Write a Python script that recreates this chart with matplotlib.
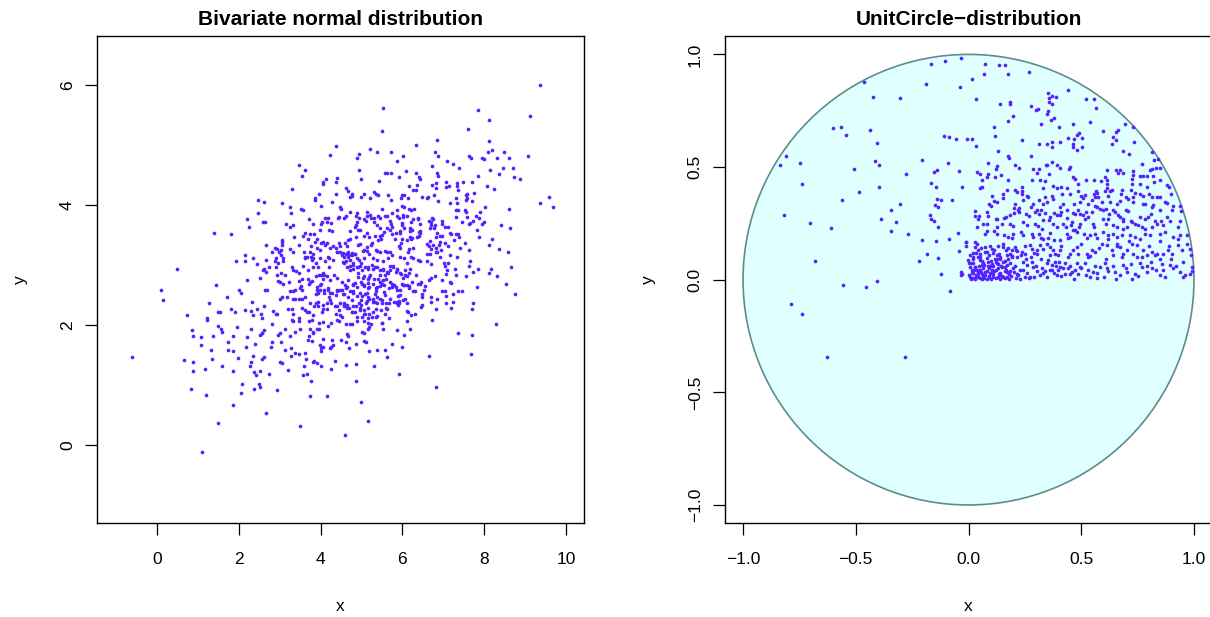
import matplotlib
matplotlib.use("Agg")
import matplotlib.pyplot as plt
from matplotlib.patches import Circle

plt.rcParams['font.family'] = ['Liberation Sans', 'DejaVu Sans']

# ---------------- data: bivariate normal sample ----------------
normal_pts_upper_left = [
(4.22,4.83),(3.46,4.67),(3.63,4.59),(3.54,4.49),(4.12,4.43),(4.07,4.38),(4.05,4.35),(3.30,4.26),(3.95,4.19),(3.86,4.11),
(3.87,4.08),(2.48,4.08),(2.62,4.05),(3.05,4.04),(3.24,3.97),(3.52,3.94),(3.58,3.92),(4.00,3.99),(4.29,4.05),(2.47,3.87),
(3.27,3.87),(2.20,3.77),(3.72,3.77),(4.11,3.78),(4.19,3.79),(2.58,3.71),(2.65,3.72),(3.16,3.68),(3.26,3.64),(3.33,3.67),
(3.82,3.69),(4.00,3.68),(4.04,3.71),(4.15,3.71),(4.25,3.70),(2.26,3.64),(1.40,3.53),(1.82,3.52),(3.34,3.46),(3.57,3.49),
(3.62,3.53),(3.68,3.44),(3.74,3.52),(3.84,3.52),(3.99,3.58),(4.21,3.59),(4.27,3.57),(3.91,3.44),(4.07,3.39),(4.00,3.37),
(4.16,3.37),(4.31,3.31),(2.67,3.33),(3.06,3.42),(3.06,3.39),(3.05,3.34),(2.88,3.28),(2.93,3.26),(3.04,3.25),(3.25,3.26),
(3.32,3.21),(3.46,3.33),(3.60,3.22),(3.75,3.21),(3.81,3.18),(3.90,3.28),(2.82,3.21),(2.99,3.21),(3.03,3.17),(2.92,3.11),
(2.89,3.06),(2.97,3.04),(3.08,3.06),(3.07,3.11),(2.14,3.16),(2.34,3.12),(2.67,3.08),(1.92,3.07),(2.15,3.06),(2.44,3.02),
(3.62,3.14),(4.17,3.14),(4.20,3.11),(3.63,3.12),(3.81,3.11),(3.77,3.13),
]
normal_pts_upper_right = [
(9.36,6.00),(5.53,5.61),(7.86,5.58),(9.12,5.49),(8.12,5.41),(5.51,5.24),(7.60,5.27),(6.84,5.09),(8.12,5.06),(4.38,4.99),
(6.32,5.00),(5.21,4.94),(5.38,4.88),(5.71,4.89),(8.10,4.89),(8.20,4.91),(8.48,4.88),(4.95,4.85),(4.88,4.78),(6.79,4.89),
(6.86,4.82),(6.02,4.81),(7.63,4.81),(7.67,4.78),(7.95,4.79),(8.00,4.76),(8.31,4.78),(8.61,4.79),(9.07,4.81),(5.87,4.73),
(7.08,4.74),(7.23,4.69),(6.72,4.65),(7.38,4.61),(8.13,4.59),(8.46,4.62),(8.71,4.62),(8.36,4.51),(8.72,4.46),(8.88,4.43),
(4.95,4.59),(5.58,4.54),(5.62,4.53),(5.71,4.53),(4.98,4.44),(5.42,4.40),(6.09,4.56),(6.32,4.54),(6.41,4.46),(6.44,4.44),
(5.92,4.47),(6.84,4.54),(6.88,4.48),(7.84,4.48),(4.39,4.45),(4.37,4.38),(6.72,4.33),(6.82,4.37),(6.81,4.28),(7.07,4.38),
(7.06,4.30),(7.13,4.32),(7.33,4.37),(7.34,4.31),(7.35,4.25),(7.49,4.38),(7.71,4.39),(8.08,4.31),(8.25,4.26),(4.61,4.28),
(4.68,4.24),(4.37,4.18),(4.76,4.18),(4.72,4.13),(4.77,4.15),(4.98,4.13),(5.07,4.18),(5.31,4.21),(5.35,4.19),(5.40,4.17),
(5.21,4.12),(5.65,4.17),(5.71,4.09),(5.98,4.17),(6.03,4.17),(6.17,4.32),(6.14,4.12),(6.26,4.25),(6.32,4.25),(6.35,4.33),
(5.97,4.11),(6.49,4.13),(6.61,4.11),(6.63,4.13),(6.78,4.16),(6.88,4.07),(7.17,4.04),(7.31,4.12),(7.34,4.03),(7.56,4.17),
(7.57,4.11),(7.56,4.08),(7.59,4.19),(7.70,4.07),(7.75,4.20),(8.03,3.96),(8.60,3.94),(9.36,4.04),(9.59,4.13),(9.68,3.96),
(4.47,3.96),(4.51,3.94),(4.61,3.81),(4.58,3.78),(4.44,3.80),(4.43,3.79),(4.73,3.89),(4.88,3.86),(4.87,3.81),(4.90,3.72),
(4.86,3.66),(4.85,3.63),(4.93,3.78),(5.05,3.76),(5.10,3.73),(5.14,3.89),(5.13,3.82),(5.21,3.83),(5.23,3.78),(5.31,3.78),
(5.30,3.72),(5.41,3.81),(5.45,3.78),(5.51,3.94),(5.58,3.81),(5.62,3.81),(5.39,3.67),(5.44,3.61),(5.75,3.87),(5.86,3.91),
(5.91,3.78),(5.86,3.81),(6.02,3.80),(6.02,3.83),(6.10,3.81),(6.00,3.99),(6.03,3.96),(6.17,3.94),(6.22,3.91),(6.28,3.93),
(6.37,3.78),(6.39,3.77),(6.27,3.76),(6.20,3.72),(5.69,3.73),(5.73,3.69),(5.74,3.64),(5.98,3.70),(5.99,3.67),(6.03,3.62),
(5.84,3.54),(5.95,3.56),(5.93,3.53),(6.18,3.61),(6.18,3.57),(6.24,3.58),(6.18,3.47),(6.23,3.45),(6.43,3.68),(6.41,3.55),
(6.43,3.57),(6.65,3.73),(6.70,3.72),(6.74,3.76),(6.73,3.79),(6.67,3.62),(6.71,3.66),(6.80,3.67),(6.78,3.61),(6.96,3.68),
(7.04,3.64),(7.12,3.63),(6.96,3.74),(7.31,3.80),(7.30,3.92),(7.35,3.91),(7.45,3.72),(7.53,3.92),(7.55,3.89),(7.57,3.80),
(7.65,3.70),(7.62,3.68),(7.72,3.74),(7.80,3.81),(7.89,3.88),(7.88,3.78),(7.99,3.71),(7.94,3.68),(7.82,3.59),(7.88,3.46),
(8.20,3.44),(8.42,3.66),(8.64,3.62),(8.12,3.33),(8.36,3.27),(8.59,3.22),(6.85,3.53),(6.91,3.49),(6.81,3.47),(6.98,3.49),
(7.18,3.51),(7.17,3.54),(7.31,3.51),(7.37,3.52),(7.38,3.47),(7.26,3.42),(7.04,3.37),(7.12,3.32),(7.40,3.28),(7.53,3.36),
(7.63,3.25),(7.65,3.06),(7.17,3.16),(6.93,3.39),(6.89,3.34),(6.76,3.34),(6.69,3.27),(6.59,3.35),(6.64,3.32),(6.81,3.28),
(6.83,3.22),(6.94,3.25),(6.85,3.21),(6.68,3.19),(6.61,3.18),(6.93,3.14),(6.39,3.08),(6.43,3.06),(6.67,3.40),(6.41,3.49),
(6.43,3.54),(6.35,3.47),(6.21,3.44),(6.10,3.42),(6.27,3.29),(6.17,3.26),(6.13,3.22),(5.92,3.32),(5.93,3.28),(5.99,3.44),
(5.96,3.36),(5.83,3.44),(5.74,3.51),(5.70,3.58),(5.62,3.61),(5.55,3.55),(5.50,3.50),(5.48,3.44),(5.45,3.49),(5.33,3.49),
(5.41,3.42),(5.19,3.47),(5.05,3.48),(5.14,3.53),(4.96,3.59),(4.92,3.59),(4.86,3.47),(4.73,3.56),(4.72,3.44),(4.66,3.41),
(4.60,3.36),(4.65,3.32),(4.44,3.37),(4.47,3.32),(4.55,3.20),(4.53,3.17),(4.66,3.21),(4.70,3.17),(4.76,3.20),(4.85,3.18),
(4.92,3.33),(4.97,3.35),(5.04,3.23),(5.07,3.25),(5.13,3.30),(5.23,3.33),(5.25,3.37),(5.18,3.19),(5.14,3.23),(5.35,3.25),
(5.38,3.24),(5.44,3.21),(5.57,3.24),(5.63,3.22),(5.70,3.21),(5.53,3.07),(5.65,3.12),(5.75,3.16),(5.29,3.11),(5.37,3.08),
(5.05,3.11),(4.98,3.04),(4.72,3.09),(4.80,3.04),(4.55,3.05),(4.61,3.07),(4.38,3.28),(4.39,3.21),(5.95,3.14),(6.04,3.11),
(6.21,3.14),(6.27,3.11),(6.12,3.03),(6.59,3.06),(6.69,3.02),(7.02,3.04),(7.11,3.03),(7.34,3.14),
]
normal_pts_lower_left = [
(0.48,2.93),(1.45,2.66),(0.10,2.58),(0.15,2.42),(2.20,2.75),(2.00,2.59),(2.05,2.54),(1.71,2.47),(1.27,2.36),(0.73,2.16),
(1.21,2.11),(1.23,2.09),(1.48,2.22),(1.53,2.22),(1.80,2.26),(1.91,2.22),(2.16,2.25),(2.33,2.39),(2.31,2.23),(2.44,2.26),
(2.35,2.16),(2.55,2.18),(2.56,2.12),(2.62,2.31),(2.63,2.59),(2.68,2.59),(2.52,2.79),(2.84,2.24),(2.90,2.18),(2.94,2.19),
(2.81,2.01),(2.61,1.91),(2.56,1.86),(2.29,1.94),(1.96,1.97),(1.49,1.98),(1.56,1.94),(1.60,1.88),(0.86,1.91),(0.87,1.81),
(1.07,1.80),(1.08,1.66),(1.37,1.81),(1.74,1.72),(1.86,1.82),(2.19,1.80),(2.40,1.69),(2.52,1.83),(2.57,1.87),(2.81,1.71),
(2.78,1.63),(3.00,1.87),(2.97,1.84),(3.04,1.71),(3.13,1.93),(3.14,1.58),(3.26,1.81),(3.27,1.61),(3.37,1.54),(3.27,1.49),
(3.48,1.51),(1.33,1.58),(1.74,1.59),(1.86,1.57),(1.97,1.45),(2.18,1.63),(2.35,1.49),(2.29,1.39),(2.27,1.32),(2.57,1.44),
(2.62,1.47),(1.35,1.44),(0.66,1.41),(0.88,1.39),(-0.60,1.46),(0.87,1.24),(1.17,1.27),(1.59,1.32),(1.87,1.24),(2.37,1.22),
(2.42,1.16),(2.53,1.24),(2.73,1.19),(3.01,1.39),(3.05,1.36),(3.20,1.25),(0.83,0.94),(1.20,0.83),(2.08,1.01),(2.05,0.87),
(2.36,0.94),(2.49,1.02),(2.53,0.97),(2.93,0.91),(1.86,0.66),(2.67,0.54),(1.48,0.36),(3.50,0.32),(1.09,-0.11),(3.74,0.81),
(4.15,0.81),(3.56,1.16),(3.67,1.19),(3.77,1.07),(3.81,1.39),(3.85,1.40),(3.90,1.36),(4.02,1.32),(4.25,1.27),(3.60,1.31),
(3.65,1.44),(3.63,1.53),(2.67,2.89),(2.73,2.97),(2.58,2.92),(2.62,2.94),(2.90,2.96),(3.03,2.86),(3.14,2.83),(2.94,2.84),
(3.29,2.97),(3.33,2.92),(3.41,2.90),(3.46,2.86),(3.58,2.99),(3.70,2.92),(3.81,2.96),(3.94,2.97),(2.97,2.74),(3.01,2.72),
(3.07,2.68),(3.23,2.72),(3.24,2.57),(3.33,2.56),(3.38,2.58),(3.46,2.73),(3.54,2.76),(3.51,2.65),(3.50,2.62),(3.54,2.58),
(3.70,2.76),(3.74,2.72),(3.72,2.69),(3.78,2.73),(3.88,2.82),(3.97,2.84),(4.02,2.84),(4.08,2.84),(4.07,2.76),(4.02,2.69),
(3.98,2.67),(3.90,2.59),(3.94,2.53),(3.89,2.51),(4.09,2.58),(4.19,2.58),(4.23,2.53),(4.21,2.47),(4.23,2.42),(4.16,2.37),
(3.89,2.36),(3.93,2.31),(3.54,2.28),(3.62,2.25),(3.66,2.22),(3.72,2.21),(3.82,2.17),(4.03,2.22),(4.07,2.26),(3.32,2.43),
(3.37,2.43),(3.46,2.43),(3.54,2.43),(3.63,2.47),(3.19,2.46),(3.05,2.46),(3.01,2.44),(3.21,2.27),(3.30,2.26),(3.32,2.18),
(3.29,2.09),(3.32,2.06),(3.48,2.07),(3.47,2.11),(3.72,2.07),(3.80,2.08),(3.97,2.04),(4.05,2.05),(4.19,1.98),(4.25,2.03),
(3.74,1.93),(3.81,1.89),(3.82,1.87),(3.72,1.81),(3.68,1.75),(3.79,1.73),(3.96,1.93),(3.92,1.94),(3.98,1.67),(4.00,1.61),
(4.05,1.64),(4.01,1.56),(4.07,1.76),(4.27,1.75),(4.30,1.67),(4.23,1.61),(4.25,1.64),(3.50,1.93),(3.37,1.89),
]
normal_pts_lower_right = [
(8.66,2.96),(8.32,2.82),(8.12,2.87),(8.17,2.93),(8.54,2.68),(8.76,2.52),(7.84,2.93),(7.82,2.64),(7.72,2.89),(7.64,2.98),
(7.56,2.81),(7.29,2.94),(7.32,2.84),(7.10,2.91),(7.04,2.98),(7.06,2.85),(6.96,2.75),(7.17,2.71),(7.20,2.70),(6.98,2.57),
(7.05,2.57),(7.24,2.51),(7.35,2.57),(7.46,2.56),(7.07,2.48),(6.85,2.44),(7.07,2.37),(7.23,2.39),(7.19,2.29),(7.73,2.36),
(7.71,2.26),(6.81,2.26),(6.72,2.08),(8.30,2.01),(7.37,1.86),(7.69,1.84),(7.68,1.52),(6.66,1.49),(6.81,0.97),(5.92,1.19),
(5.62,1.47),(5.31,1.32),(4.87,1.06),(4.99,0.72),(5.17,0.40),(4.60,0.16),(4.63,1.33),(4.86,1.35),(4.36,1.40),(6.00,1.63),
(5.75,1.69),(5.57,1.59),(5.39,1.58),(5.19,1.56),(5.87,1.91),(6.04,1.84),(6.19,1.94),(5.50,2.04),(5.53,1.94),(5.19,1.96),
(5.17,1.94),(5.24,2.01),(5.01,1.88),(5.05,1.86),(5.07,1.73),(5.10,1.71),(4.68,1.81),(4.70,1.61),(4.86,1.68),(4.64,1.85),
(4.62,1.71),(4.51,1.75),(4.76,2.02),(4.72,2.02),(4.61,2.01),(4.88,2.06),(4.90,2.13),(5.05,2.06),(5.15,2.04),(5.15,2.11),
(5.36,2.13),(5.36,2.27),(5.49,2.03),(5.60,2.29),(5.62,2.26),(5.68,2.36),(5.86,2.38),(5.91,2.36),(6.12,2.24),(6.14,2.21),
(6.22,2.17),(6.31,2.18),(6.48,2.34),(6.45,2.30),(6.11,2.06),(6.27,2.57),(6.30,2.56),(6.49,2.51),(6.49,2.47),(6.55,2.65),
(6.42,2.69),(6.45,2.71),(6.37,2.68),(6.65,2.75),(6.71,2.78),(6.80,2.82),(6.32,2.83),(6.15,2.65),(6.24,2.71),(6.53,2.59),
(6.71,2.46),(6.71,2.39),(6.06,2.43),(5.92,2.40),(5.86,2.36),(5.88,2.49),(5.94,2.50),(5.75,2.64),(5.86,2.59),(5.99,2.68),
(6.01,2.67),(6.10,2.67),(6.07,2.84),(6.10,2.82),(6.19,2.93),(6.01,2.79),(5.96,2.85),(5.85,2.88),(5.86,2.93),(5.70,2.98),
(5.78,2.99),(5.53,2.92),(5.45,2.84),(5.57,2.83),(5.65,2.86),(5.60,2.76),(5.53,2.75),(5.41,2.76),(5.31,2.76),(5.17,2.76),
(5.19,2.80),(5.21,2.84),(5.29,2.93),(5.37,2.97),(5.17,2.96),(4.96,2.98),(4.88,2.97),(4.80,3.00),(4.73,2.98),(4.92,2.86),
(4.91,2.80),(5.05,2.82),(5.03,2.79),(4.85,2.70),(4.78,2.67),(4.65,2.64),(4.62,2.61),(4.53,2.59),(4.41,2.58),(5.01,2.68),
(5.05,2.65),(5.17,2.70),(5.19,2.64),(5.35,2.62),(5.45,2.65),(5.49,2.68),(5.70,2.71),(5.80,2.67),(5.56,2.55),(5.58,2.50),
(5.36,2.56),(5.34,2.51),(5.14,2.53),(5.17,2.47),(4.96,2.53),(5.01,2.48),(4.72,2.56),(4.80,2.53),(4.55,2.52),(4.41,2.56),
(5.29,2.43),(5.33,2.39),(5.37,2.37),(5.45,2.43),(5.49,2.37),(5.13,2.40),(5.11,2.36),(4.95,2.36),(4.98,2.34),(4.76,2.42),
(4.80,2.31),(4.65,2.33),(4.57,2.37),(4.56,2.31),(4.41,2.31),(4.47,2.36),(4.70,2.28),(4.76,2.22),(4.84,2.22),(4.96,2.28),
(5.05,2.25),(5.09,2.18),(5.02,2.14),(5.19,2.19),(5.25,2.13),(4.47,2.17),(4.41,2.09),(4.38,2.19),(4.44,2.06),(4.52,2.14),
]
normal_pts_core = [
(4.47,3.22),(4.56,3.14),(4.62,3.19),(4.68,3.13),(4.76,3.17),(4.84,3.19),(4.88,3.11),(4.95,3.08),(4.56,3.03),(4.65,2.97),
(4.72,2.92),(4.80,2.94),(4.92,2.97),(5.00,2.92),(5.09,2.97),(5.17,2.94),(5.25,3.00),(5.33,2.97),(5.44,2.92),(5.53,2.94),
(5.62,2.89),(5.70,2.92),(5.78,2.97),(5.86,2.92),(5.94,2.86),(6.06,2.92),(6.15,2.86),(4.07,2.86),(4.15,2.81),(4.23,2.75),
(4.33,2.83),(4.41,2.78),(4.52,2.72),(4.60,2.67),(4.68,2.75),(4.78,2.69),(4.88,2.64),(4.98,2.72),(5.06,2.67),(5.17,2.61),
(5.27,2.69),(5.37,2.64),(5.45,2.72),(5.55,2.67),(5.66,2.61),(5.75,2.69),(5.84,2.64),(5.94,2.58),(6.04,2.67),(6.15,2.61),
(3.90,2.64),(3.99,2.58),(4.08,2.53),(4.19,2.61),(4.27,2.54),(4.38,2.50),(4.47,2.58),(4.57,2.52),(4.68,2.47),(4.78,2.56),
(4.88,2.48),(4.98,2.42),(5.09,2.52),(5.19,2.44),(5.29,2.39),(5.39,2.47),(5.49,2.42),(5.60,2.36),(5.70,2.44),(5.79,2.39),
(5.90,2.33),(6.01,2.42),(6.10,2.36),(3.74,2.36),(3.84,2.31),(3.94,2.39),(4.05,2.33),(4.15,2.26),(4.25,2.36),(4.35,2.31),
(4.46,2.25),(4.56,2.33),(4.65,2.28),(4.76,2.22),(4.87,2.31),(4.96,2.25),(5.06,2.19),(5.17,2.28),(5.27,2.22),(5.37,2.15),
(5.47,2.25),(5.57,2.19),(5.68,2.11),(3.66,3.14),(3.78,3.08),(3.89,3.03),(3.99,3.11),(4.11,3.06),(4.21,2.97),(4.31,3.08),
(4.39,3.22),(4.23,3.28),(4.11,3.33),(3.99,3.25),(3.86,3.39),(3.76,3.31),
]

# ---------------- data: unit-circle sample ----------------
circle_pts_left = [
(-0.033,0.985),(-0.106,0.971),(-0.166,0.959),(-0.465,0.879),(-0.188,0.867),(-0.038,0.854),(-0.424,0.812),(-0.305,0.806),
(-0.601,0.675),(-0.565,0.679),(-0.542,0.644),(-0.437,0.664),(-0.407,0.608),(-0.107,0.638),(-0.088,0.635),(-0.055,0.626),
(-0.808,0.549),(-0.834,0.511),(-0.746,0.520),(-0.415,0.527),(-0.398,0.511),(-0.506,0.493),(-0.208,0.530),(-0.092,0.518),
(-0.152,0.480),(-0.141,0.486),(-0.041,0.484),(-0.276,0.471),(-0.737,0.425),(-0.395,0.412),(-0.484,0.391),(-0.166,0.431),
(-0.144,0.412),(-0.029,0.412),(-0.561,0.355),(-0.140,0.358),(-0.122,0.353),(-0.073,0.353),(-0.147,0.333),(-0.134,0.321),
(-0.302,0.335),(-0.345,0.311),(-0.817,0.289),(-0.169,0.285),(-0.168,0.270),(-0.152,0.262),(-0.388,0.270),(-0.321,0.258),
(-0.703,0.252),(-0.610,0.228),(-0.344,0.217),(-0.270,0.205),(-0.134,0.234),(-0.048,0.208),(-0.208,0.178),(-0.144,0.172),
(-0.086,0.180),(-0.013,0.168),(-0.010,0.150),(-0.041,0.126),(-0.182,0.115),(-0.218,0.081),(-0.137,0.098),(-0.679,0.081),
(-0.124,0.024),(-0.033,0.035),(-0.028,0.027),(-0.033,0.019),(-0.555,-0.024),(-0.456,-0.032),(-0.404,-0.005),(-0.081,-0.048),
(-0.789,-0.106),(-0.740,-0.153),(-0.629,-0.342),(-0.282,-0.342),
]
circle_pts_upper_right = [
(0.075,0.959),(0.137,0.953),(0.161,0.953),(0.069,0.911),(0.177,0.914),(0.270,0.921),(0.017,0.890),(0.443,0.843),
(0.354,0.830),(0.369,0.815),(0.355,0.808),(0.358,0.791),(0.388,0.812),(0.032,0.804),(0.520,0.804),(0.558,0.800),
(0.141,0.780),(0.186,0.788),(0.184,0.781),(0.277,0.772),(0.299,0.755),(0.308,0.758),(0.372,0.780),(0.564,0.763),
(0.354,0.749),(0.347,0.734),(0.196,0.725),(0.177,0.704),(0.366,0.708),(0.378,0.717),(0.401,0.678),(0.323,0.690),
(0.463,0.690),(0.540,0.701),(0.694,0.690),(0.731,0.678),(0.662,0.666),(0.654,0.655),(0.490,0.650),(0.480,0.641),
(0.595,0.659),(0.641,0.634),(0.115,0.678),(0.116,0.640),(-0.008,0.623),(0.014,0.623),(0.033,0.592),(0.239,0.621),
(0.314,0.602),(0.347,0.604),(0.369,0.611),(0.372,0.591),(0.406,0.610),(0.440,0.630),(0.468,0.626),(0.503,0.630),
(0.462,0.604),(0.465,0.589),(0.503,0.587),(0.480,0.575),(0.636,0.601),(0.656,0.618),(0.734,0.610),(0.685,0.573),
(0.713,0.556),(0.815,0.565),(0.824,0.530),(0.842,0.535),(0.812,0.491),(0.803,0.487),(0.831,0.496),(0.849,0.497),
(0.768,0.515),(0.132,0.570),(0.177,0.548),(0.181,0.542),(0.276,0.548),(0.222,0.498),(0.206,0.508),(0.085,0.520),
(0.122,0.493),(0.128,0.506),(0.038,0.476),(0.051,0.471),(0.085,0.471),(0.081,0.456),(0.118,0.456),(0.146,0.465),
(0.177,0.441),(0.061,0.444),(0.059,0.411),(0.051,0.409),(0.288,0.491),(0.302,0.474),(0.314,0.491),(0.342,0.508),
(0.350,0.511),(0.370,0.521),(0.391,0.510),(0.406,0.497),(0.356,0.470),(0.282,0.444),(0.317,0.444),(0.341,0.439),
(0.239,0.411),(0.237,0.394),(0.236,0.379),(0.329,0.408),(0.376,0.416),(0.394,0.409),(0.410,0.411),(0.435,0.409),
(0.450,0.500),(0.446,0.490),(0.462,0.456),(0.473,0.447),(0.487,0.426),(0.523,0.441),(0.557,0.441),(0.589,0.438),
(0.604,0.456),(0.613,0.486),(0.616,0.441),(0.613,0.426),(0.613,0.409),(0.654,0.486),(0.672,0.489),(0.684,0.475),
(0.664,0.474),(0.731,0.482),(0.728,0.465),(0.726,0.447),(0.760,0.459),(0.774,0.459),(0.793,0.459),(0.820,0.459),
(0.849,0.444),(0.879,0.419),(0.889,0.412),(0.898,0.379),(0.824,0.434),(0.793,0.412),(0.760,0.426),(0.724,0.426),
(0.720,0.400),(0.679,0.400),(0.678,0.382),(0.636,0.400),(0.628,0.394),(0.607,0.394),(0.620,0.370),(0.564,0.392),
(0.557,0.382),(0.568,0.385),(0.563,0.366),(0.574,0.366),(0.515,0.375),(0.509,0.364),(0.497,0.370),(0.487,0.394),
(0.450,0.379),(0.416,0.379),(0.370,0.372),(0.376,0.357),(0.339,0.367),(0.350,0.343),(0.332,0.338),(0.313,0.353),
(0.285,0.334),(0.276,0.323),(0.240,0.353),(0.206,0.338),(0.200,0.319),(0.153,0.364),(0.103,0.372),(0.115,0.351),
(0.092,0.334),(0.101,0.328),(0.128,0.345),(0.029,0.305),(0.029,0.283),(0.045,0.283),(0.041,0.271),(0.081,0.302),
(0.087,0.283),(0.081,0.246),(0.121,0.271),(0.128,0.268),(0.159,0.272),(0.166,0.279),(0.184,0.289),(0.204,0.296),
(0.221,0.311),(0.225,0.320),(0.224,0.302),(0.257,0.293),(0.270,0.282),(0.293,0.299),(0.311,0.293),(0.305,0.308),
(0.320,0.311),(0.341,0.296),(0.362,0.280),(0.359,0.264),(0.381,0.296),(0.391,0.289),(0.410,0.300),(0.404,0.286),
(0.438,0.308),(0.438,0.276),(0.420,0.249),(0.432,0.234),(0.465,0.296),(0.473,0.290),(0.487,0.308),(0.495,0.293),
(0.509,0.286),(0.517,0.271),(0.521,0.300),(0.528,0.279),(0.546,0.302),(0.561,0.328),(0.568,0.323),(0.583,0.316),
(0.595,0.311),(0.608,0.316),(0.552,0.249),(0.555,0.234),(0.490,0.234),(0.495,0.249),(0.457,0.256),(0.453,0.241),
(0.462,0.222),(0.625,0.293),(0.620,0.271),(0.642,0.311),(0.651,0.301),(0.664,0.286),(0.672,0.279),(0.687,0.271),
(0.684,0.261),(0.697,0.311),(0.709,0.306),(0.719,0.261),(0.727,0.256),(0.737,0.249),(0.753,0.241),(0.768,0.234),
(0.781,0.227),(0.760,0.279),(0.783,0.271),(0.798,0.279),(0.808,0.290),(0.827,0.261),(0.835,0.249),(0.853,0.259),
(0.864,0.241),(0.879,0.279),(0.894,0.261),(0.904,0.311),(0.908,0.326),(0.938,0.328),(0.941,0.304),(0.940,0.261),
(0.731,0.345),(0.772,0.338),(0.783,0.335),(0.812,0.323),(0.820,0.331),(0.849,0.311),(0.871,0.345),(0.882,0.342),
(0.849,0.367),(0.835,0.367),(0.812,0.367),(0.802,0.379),(0.772,0.370),(0.760,0.382),(0.738,0.385),(0.731,0.367),
(0.697,0.367),(0.709,0.357),(0.672,0.348),(0.660,0.338),(0.628,0.345),(0.591,0.345),(0.531,0.338),(0.546,0.353),
(0.495,0.345),(0.468,0.338),(0.420,0.334),(0.406,0.323),(0.258,0.373),(0.265,0.367),(0.206,0.397),(0.217,0.390),
(0.169,0.397),(0.155,0.382),(0.066,0.249),(0.039,0.234),(0.125,0.234),(0.147,0.249),(0.184,0.249),(0.199,0.237),
(0.243,0.256),(0.258,0.241),(0.295,0.249),(0.308,0.238),(0.325,0.226),(0.332,0.264),(0.376,0.249),(0.391,0.234),
(0.598,0.271),(0.608,0.249),(0.642,0.241),(0.657,0.234),(0.687,0.227),(0.701,0.234),(0.812,0.234),(0.930,0.234),
]
circle_pts_lower_right = [
(0.081,0.215),(0.072,0.203),(0.115,0.217),(0.125,0.205),(0.159,0.197),(0.174,0.190),(0.199,0.205),(0.192,0.183),
(0.233,0.212),(0.243,0.197),(0.280,0.205),(0.288,0.190),(0.314,0.205),(0.323,0.183),(0.362,0.209),(0.354,0.185),
(0.381,0.175),(0.406,0.175),(0.435,0.202),(0.441,0.185),(0.472,0.220),(0.483,0.212),(0.513,0.205),(0.524,0.183),
(0.561,0.202),(0.568,0.185),(0.598,0.212),(0.620,0.197),(0.642,0.205),(0.657,0.190),(0.681,0.197),(0.716,0.197),
(0.738,0.190),(0.783,0.205),(0.805,0.197),(0.849,0.205),(0.871,0.212),(0.908,0.190),(0.938,0.197),(0.967,0.197),
(-0.011,0.168),(0.027,0.168),(0.036,0.160),(0.030,0.146),(0.007,0.109),(0.018,0.101),(0.044,0.131),(0.051,0.116),
(0.073,0.146),(0.081,0.123),(0.104,0.138),(0.110,0.119),(0.125,0.109),(0.140,0.101),(0.155,0.146),(0.165,0.131),
(0.184,0.116),(0.192,0.104),(0.206,0.144),(0.214,0.128),(0.236,0.123),(0.251,0.116),(0.273,0.153),(0.280,0.138),
(0.302,0.131),(0.302,0.116),(0.317,0.153),(0.329,0.138),(0.350,0.160),(0.362,0.146),(0.374,0.131),(0.384,0.116),
(0.398,0.109),(0.406,0.131),(0.450,0.116),(0.465,0.131),(0.480,0.146),(0.487,0.116),(0.524,0.116),(0.539,0.104),
(0.546,0.131),(0.561,0.123),(0.591,0.160),(0.613,0.153),(0.635,0.131),(0.642,0.109),(0.657,0.160),(0.672,0.146),
(0.687,0.116),(0.701,0.131),(0.724,0.160),(0.746,0.153),(0.731,0.116),(0.746,0.101),(0.775,0.131),(0.790,0.109),
(0.812,0.123),(0.827,0.109),(0.835,0.116),(0.849,0.094),(0.864,0.116),(0.886,0.131),(0.901,0.116),(0.930,0.153),
(0.945,0.131),(0.982,0.138),(0.985,0.109),
(-0.002,0.086),(0.004,0.072),(0.007,0.057),(0.014,0.042),(0.000,0.020),(0.007,0.010),(0.021,0.072),(0.029,0.057),
(0.036,0.042),(0.044,0.027),(0.033,0.015),(0.051,0.086),(0.058,0.064),(0.066,0.050),(0.073,0.035),(0.066,0.013),
(0.088,0.079),(0.095,0.059),(0.103,0.044),(0.110,0.027),(0.092,0.010),(0.118,0.094),(0.125,0.072),(0.132,0.050),
(0.140,0.020),(0.155,0.079),(0.162,0.057),(0.169,0.035),(0.151,0.010),(0.184,0.072),(0.199,0.050),(0.214,0.027),
(0.229,0.042),(0.243,0.079),(0.258,0.064),(0.273,0.013),(0.288,0.057),(0.302,0.039),(0.317,0.020),(0.325,0.050),
(0.347,0.072),(0.354,0.086),(0.369,0.064),(0.362,0.042),(0.384,0.079),(0.399,0.042),(0.391,0.020),(0.406,0.057),
(0.428,0.072),(0.443,0.050),(0.450,0.027),(0.472,0.042),(0.487,0.024),(0.495,0.057),(0.517,0.072),(0.532,0.042),
(0.539,0.012),(0.554,0.035),(0.568,0.008),(0.583,0.057),(0.605,0.072),(0.613,0.050),(0.650,0.035),(0.654,0.005),
(0.687,0.064),(0.701,0.035),(0.724,0.005),(0.738,0.027),(0.760,0.072),(0.768,0.057),(0.790,0.035),(0.812,0.050),
(0.849,0.020),(0.864,0.042),(0.894,0.064),(0.908,0.050),(0.938,0.035),(0.953,0.013),(0.982,0.027),(0.990,0.057),
]
circle_pts_cluster = [
(0.01,0.005),(0.02,0.008),(0.03,0.004),(0.04,0.012),(0.05,0.006),(0.06,0.003),(0.07,0.009),(0.08,0.005),(0.09,0.015),
(0.10,0.004),(0.11,0.010),(0.12,0.006),(0.13,0.012),(0.14,0.004),(0.15,0.018),(0.16,0.007),(0.17,0.012),(0.18,0.005),
(0.19,0.015),(0.21,0.008),(0.23,0.005),(0.25,0.012),(0.27,0.006),(0.29,0.010),(0.02,0.030),(0.04,0.035),(0.06,0.025),
(0.08,0.040),(0.10,0.030),(0.12,0.045),(0.14,0.028),(0.16,0.038),(0.18,0.025),(0.20,0.035),(0.03,0.055),(0.05,0.045),
(0.07,0.065),(0.09,0.050),(0.11,0.060),(0.13,0.070),(0.15,0.055),(0.17,0.065),(0.01,0.075),(0.02,0.090),(0.04,0.100),
(0.06,0.085),(0.08,0.095),(0.10,0.085),(0.12,0.080),(0.14,0.090),(0.16,0.085),(0.035,0.120),(0.055,0.140),(0.075,0.125),
(0.095,0.150),(0.115,0.130),(0.135,0.115),(0.155,0.160),(0.175,0.140),(0.195,0.130),(0.215,0.100),(0.235,0.110),
(0.255,0.090),(0.275,0.100),(0.33,0.030),(0.35,0.010),(0.37,0.045),(0.39,0.060),(0.41,0.015),(0.43,0.025),(0.45,0.060),
(0.47,0.005),(0.52,0.020),(0.56,0.060),(0.60,0.010),(0.62,0.040),(0.67,0.020),(0.70,0.050),(0.75,0.015),(0.79,0.060),
(0.83,0.045),(0.87,0.010),(0.92,0.060),(0.96,0.020),(0.99,0.040),
(0.015,0.030),(0.025,0.045),(0.035,0.020),(0.045,0.060),(0.055,0.035),(0.065,0.075),(0.075,0.020),(0.085,0.060),
(0.095,0.030),(0.105,0.070),(0.115,0.040),(0.125,0.090),(0.135,0.025),(0.145,0.060),(0.165,0.045),(0.175,0.090),
(0.185,0.040),(0.195,0.100),(0.205,0.060),(0.22,0.020),(0.24,0.045),(0.26,0.030),(0.28,0.080),(0.30,0.060),
(0.32,0.090),(0.34,0.040),(0.36,0.110),(0.38,0.030),(0.40,0.080),(0.42,0.050),(0.44,0.100),(0.46,0.035),
(0.48,0.075),(0.50,0.050),(0.53,0.100),(0.57,0.030),(0.61,0.090),(0.64,0.060),(0.68,0.100),(0.72,0.070),
(0.77,0.100),(0.81,0.080),(0.86,0.070),(0.90,0.090),(0.95,0.080),(0.02,0.120),(0.05,0.100),(0.09,0.110),
(0.13,0.150),(0.17,0.110),(0.21,0.130),(0.25,0.150),(0.29,0.120),(0.33,0.180),(0.41,0.150),(0.45,0.190),
(0.50,0.160),(0.54,0.200),(0.58,0.140),(0.62,0.180),(0.66,0.150),(0.71,0.170),(0.76,0.180),(0.80,0.150),
(0.85,0.170),(0.89,0.150),(0.93,0.180),(0.97,0.160),
]

left_xticks = [0, 2, 4, 6, 8, 10]
left_yticks = [0, 2, 4, 6]
right_ticks = [-1.0, -0.5, 0.0, 0.5, 1.0]
right_ticklabels = ['\u22121.0', '\u22120.5', '0.0', '0.5', '1.0']

POINT_COLOR = '#5522ff'

fig = plt.figure(figsize=(12.10, 6.17), dpi=100)
ax1 = fig.add_axes([97.3 / 1210, 94 / 617, 486.3 / 1210, 486.6 / 617])
ax2 = fig.add_axes([725.0 / 1210, 94 / 617, 487.0 / 1210, 486.6 / 617])

def style(ax):
    for sp in ax.spines.values():
        sp.set_linewidth(1.0)
        sp.set_color('black')
    ax.tick_params(axis='both', direction='out', length=8.6, width=0.9,
                   labelsize=12.5, colors='black')
    ax.tick_params(axis='x', pad=12)
    ax.tick_params(axis='y', pad=7.5, labelrotation=90)
    for lbl in ax.get_yticklabels():
        lbl.set_va('center')

normal_all = (normal_pts_upper_left + normal_pts_upper_right + normal_pts_lower_left
              + normal_pts_lower_right + normal_pts_core)
nx = [p[0] for p in normal_all]
ny = [p[1] for p in normal_all]
ax1.scatter(nx, ny, s=7, color=POINT_COLOR, linewidths=0, zorder=3)
ax1.set_xlim(-1.46, 10.43)
ax1.set_ylim(-1.30, 6.81)
ax1.set_xticks(left_xticks)
ax1.set_yticks(left_yticks)
style(ax1)
ax1.set_title('Bivariate normal distribution', fontsize=15, fontweight='bold', pad=8)
ax1.set_xlabel('x', fontsize=12.5, labelpad=23)
ax1.set_ylabel('y', fontsize=12.5, labelpad=23)

circle_all = circle_pts_left + circle_pts_upper_right + circle_pts_lower_right + circle_pts_cluster
cx = [p[0] for p in circle_all]
cy = [p[1] for p in circle_all]
ax2.add_patch(Circle((0, 0), 1.0, facecolor='#e0ffff', edgecolor='#5e8c8c', linewidth=1.2, zorder=1))
ax2.scatter(cx, cy, s=7, color=POINT_COLOR, linewidths=0, zorder=3)
ax2.set_xlim(-1.08, 1.08)
ax2.set_ylim(-1.08, 1.08)
ax2.set_xticks(right_ticks)
ax2.set_xticklabels(right_ticklabels)
ax2.set_yticks(right_ticks)
ax2.set_yticklabels(right_ticklabels)
style(ax2)
ax2.set_title('UnitCircle\u2212distribution', fontsize=15, fontweight='bold', pad=8)
ax2.set_xlabel('x', fontsize=12.5, labelpad=23)
ax2.set_ylabel('y', fontsize=12.5, labelpad=23)

fig.savefig('out.png', dpi=100)
